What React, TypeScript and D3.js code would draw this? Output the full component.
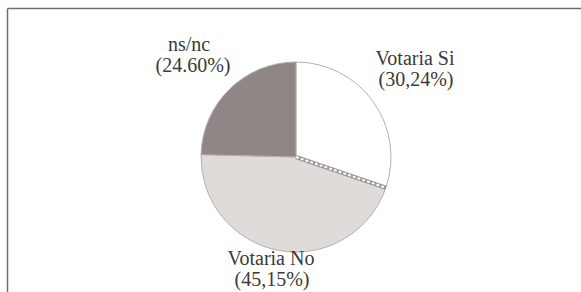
import React from 'react';
import * as d3 from 'd3';

const categories = ['Votaria Si', 'Votaria No', 'ns/nc'];
const values = [30.24, 45.15, 24.6];
const pctLabels = ['(30,24%)', '(45,15%)', '(24.60%)'];
const fills = ['#ffffff', '#dedbd9', '#8e8785'];

// label anchor positions (first baseline, centre)
const labelPos = [
  { x: 415, y: 65, dx2: 1 },
  { x: 271, y: 265, dx2: 1 },
  { x: 189, y: 51, dx2: 4 },
];

const W = 581;
const H = 292;
const cx = 296;
const cy = 157;
const r = 95;

export default function App() {
  const pie = d3.pie<number>().sort(null).value(d => d)(values);
  const arc = d3.arc<d3.PieArcDatum<number>>().innerRadius(0).outerRadius(r);

  // boundary between Si and No slices (hatched edge)
  const a = pie[0].endAngle;
  const ex = Math.sin(a) * r;
  const ey = -Math.cos(a) * r;

  return (
    <svg width={W} height={H} style={{ position: 'absolute', left: 0, top: 0 }}>
      <rect x={0} y={0} width={W} height={H} fill="#fff" />
      {/* frame */}
      <line x1={7.5} y1={8.5} x2={W} y2={8.5} stroke="#6f6f6f" strokeWidth={1.5} />
      <line x1={7.5} y1={8.5} x2={7.5} y2={H} stroke="#6f6f6f" strokeWidth={1.5} />

      <g transform={`translate(${cx},${cy})`}>
        {pie.map((d, i) => (
          <path key={categories[i]} d={arc(d) || ''} fill={fills[i]} stroke="#b5b1af" strokeWidth={1} />
        ))}
        <line x1={0} y1={0} x2={ex} y2={ey} stroke="#9a9694" strokeWidth={4} />
        <line x1={0} y1={0} x2={ex} y2={ey} stroke="#ffffff" strokeWidth={2} strokeDasharray="3 2" />
      </g>

      {categories.map((c, i) => (
        <text
          key={c}
          x={labelPos[i].x}
          y={labelPos[i].y}
          textAnchor="middle"
          fontFamily="'Liberation Serif', serif"
          fontSize={20}
          fill="#3a3a3a"
        >
          <tspan x={labelPos[i].x}>{c}</tspan>
          <tspan x={labelPos[i].x + labelPos[i].dx2} dy={21}>{pctLabels[i]}</tspan>
        </text>
      ))}
    </svg>
  );
}
